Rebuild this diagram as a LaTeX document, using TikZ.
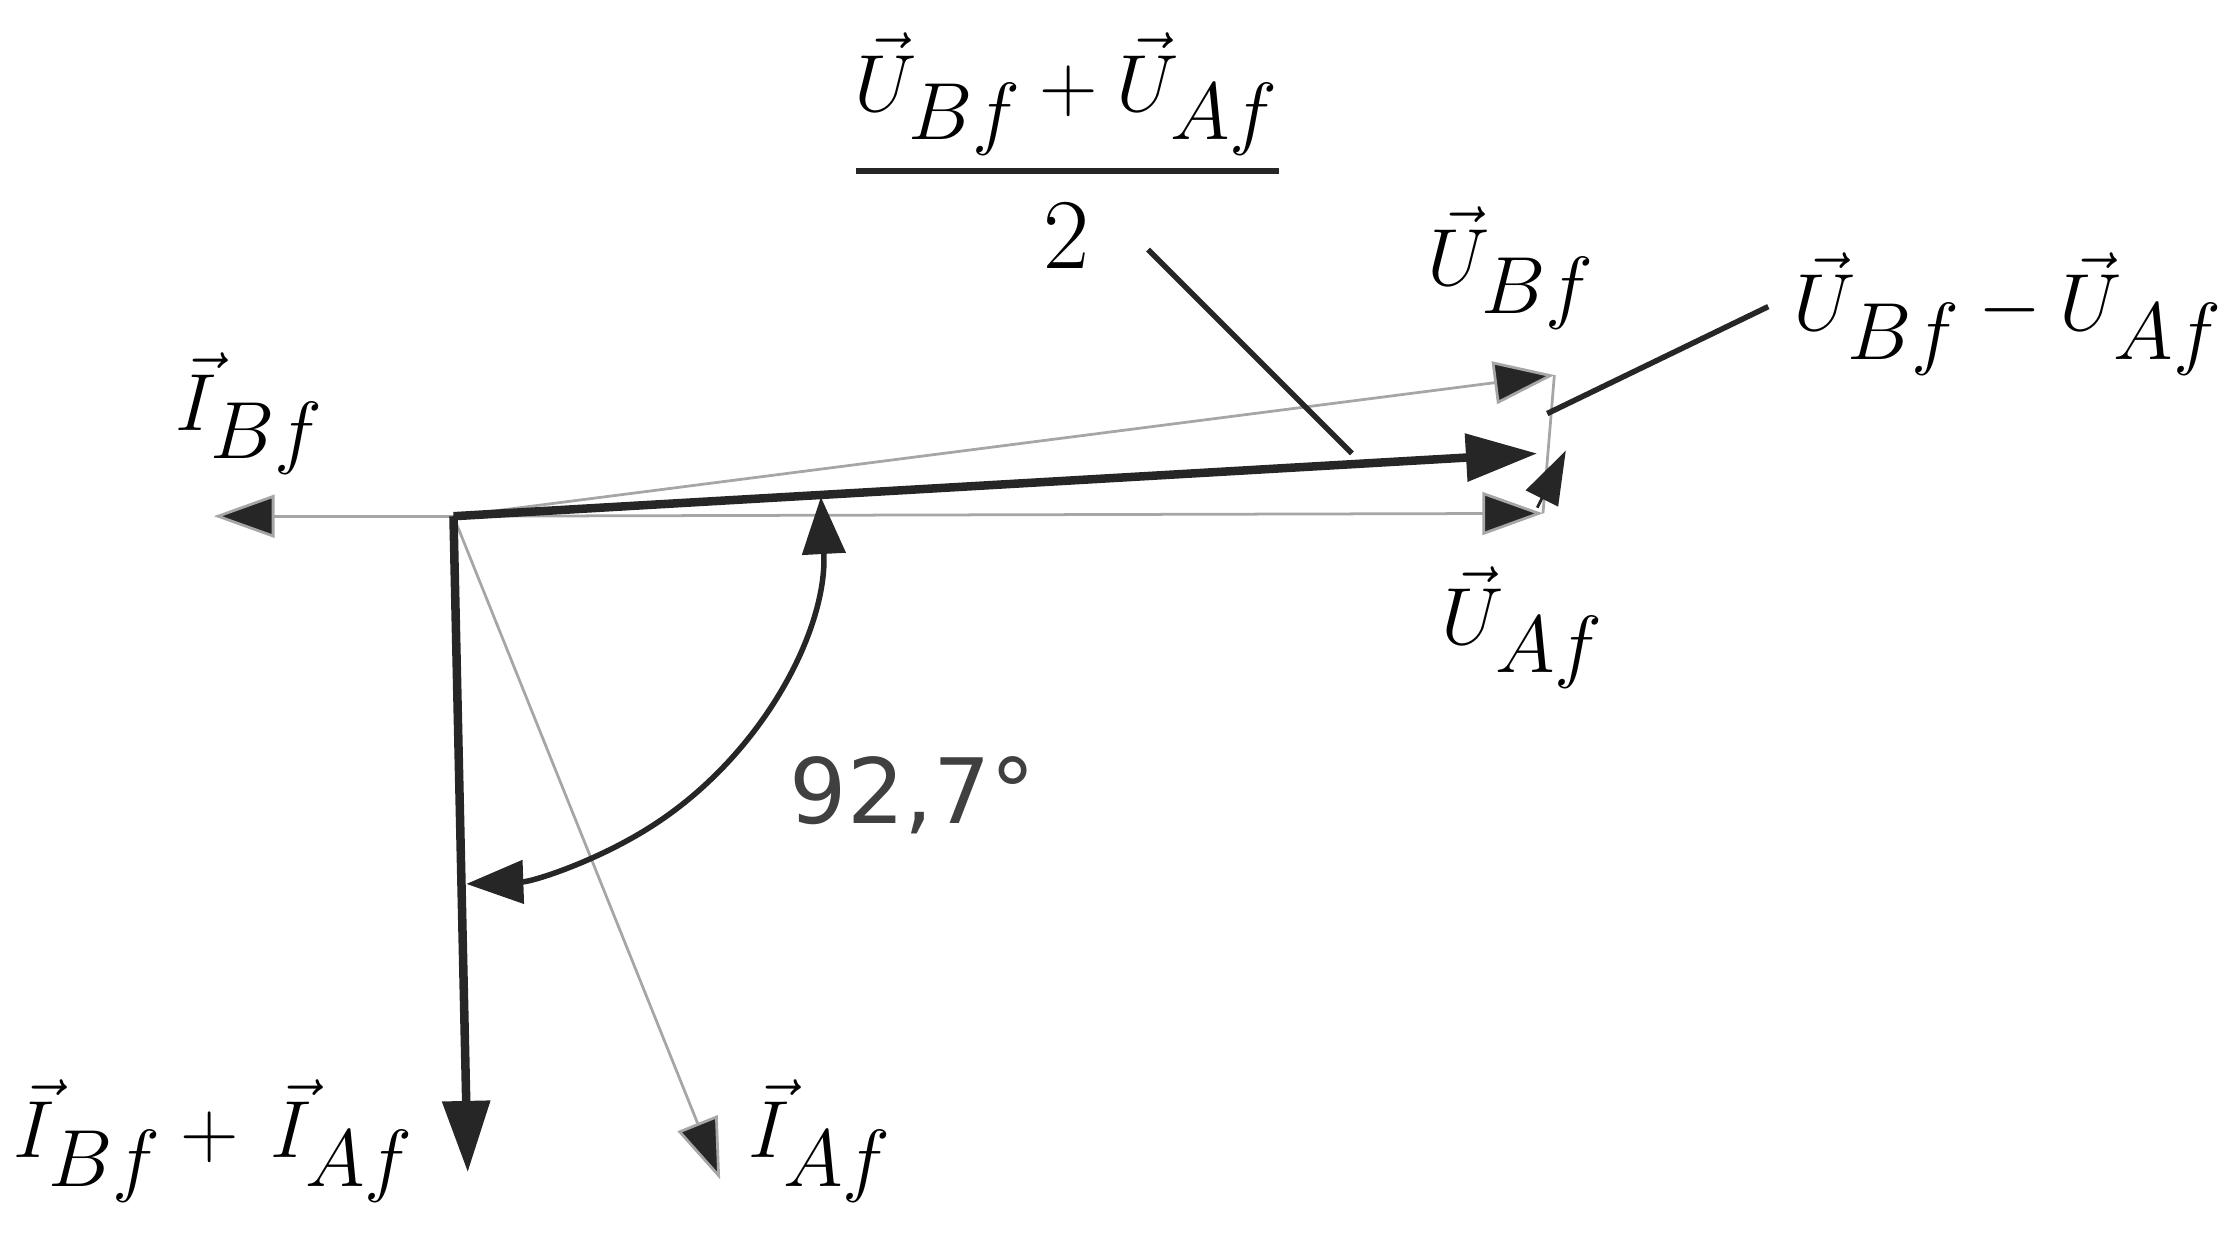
\documentclass[tikz,border=0pt]{standalone}
\usepackage{fontspec}
\usepackage{amsmath}
\usepackage{graphicx}
\newfontfamily\dejavu{DejaVu Sans}
\usetikzlibrary{arrows.meta}
\begin{document}
\begin{tikzpicture}[x=0.02cm,y=-0.02cm,
  thinvec/.style={draw=gray!70,line width=1.1pt,-{Triangle[length=0.85cm,width=0.6cm,fill=black!85]}},
  thickvec/.style={draw=black!85,line width=3.4pt,-{Triangle[length=1.0cm,width=0.65cm,fill=black!85]}},
  lead/.style={draw=black!85,line width=2.2pt},
  lab/.style={font=\fontsize{40}{48}\selectfont}]
\useasboundingbox (0,0) rectangle (1568,872);
\coordinate (O) at (318,362);
\coordinate (IB) at (150,362);
\coordinate (IS) at (328,822);
\coordinate (IA) at (505,827);
\coordinate (UA) at (1082,360);
\coordinate (UB) at (1090,263);
\coordinate (US) at (1078,318);
\coordinate (UD) at (1098,316);
\draw[thinvec] (O) -- (IB);
\draw[thinvec] (O) -- (IA);
\draw[thinvec] (O) -- (UA);
\draw[thinvec] (O) -- (UB);
\draw[draw=gray!70,line width=1.1pt] (UA) -- (UB);
\draw[draw=black!85,line width=1.1pt,-{Triangle[length=0.75cm,width=0.5cm,fill=black!85]}] (1078,356) -- (UD);
\draw[thickvec] (O) -- (IS);
\draw[thickvec] (O) -- (US);
\draw[lead,{Triangle[length=0.8cm,width=0.6cm]}-{Triangle[length=0.8cm,width=0.6cm]}] (O) ++(-3:258) arc[start angle=-3,end angle=88,radius=258];
\coordinate (L1a) at (805,175); \coordinate (L1b) at (948,318);
\draw[lead] (L1a) -- (L1b);
\coordinate (L2a) at (1240,215); \coordinate (L2b) at (1085,290);
\draw[lead] (L2a) -- (L2b);
\node[lab] (tIB) at (175,290) {\scalebox{1.3}{$\vec{I}_{Bf}$}};
\node[lab] (tIS) at (150,800) {\scalebox{1.3}{$\vec{I}_{Bf}+\,\vec{I}_{Af}$}};
\node[lab] (tIA) at (575,800) {\scalebox{1.3}{$\vec{I}_{Af}$}};
\node[lab] (tUA) at (1068,440) {\scalebox{1.3}{$\vec{U}_{Af}$}};
\node[lab] (tUB) at (1060,188) {\scalebox{1.3}{$\vec{U}_{Bf}$}};
\node[lab] (tUD) at (1408,220) {\scalebox{1.3}{$\vec{U}_{Bf}-\vec{U}_{Af}$}};
\node[lab] (tNum) at (748,66) {\scalebox{1.3}{$\vec{U}_{Bf}+\vec{U}_{Af}$}};
\coordinate (Fa) at (600,120); \coordinate (Fb) at (897,120);
\draw[draw=black!85,line width=2.2pt] (Fa) -- (Fb);
\node[lab] (tDen) at (748,165) {2};
\node[font=\dejavu\fontsize{36}{40}\selectfont,text=black!75] (tAng) at (640,558) {92,7°};
\end{tikzpicture}
\end{document}
